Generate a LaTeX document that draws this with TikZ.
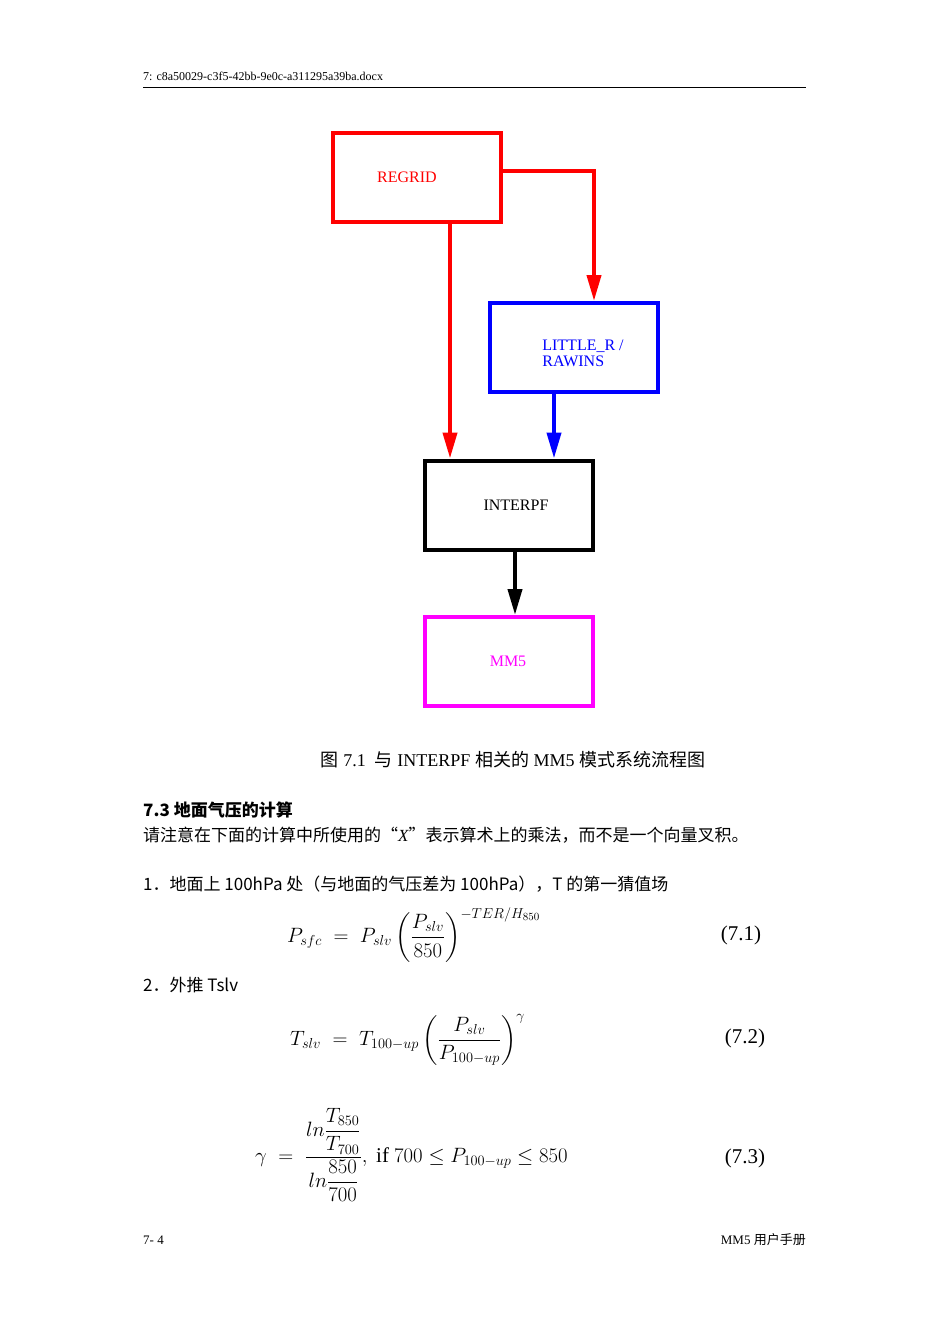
\documentclass[tikz,border=0pt]{standalone}
\usepackage{fontspec}
\usepackage{amsmath}
\setmainfont{Liberation Serif}
\newfontfamily\cjk{Noto Sans CJK SC}
\usetikzlibrary{arrows.meta}
\definecolor{mag}{RGB}{255,0,255}
\tikzset{box/.style={draw,line width=4pt,minimum width=168pt,minimum height=89pt,inner sep=0pt,font=\fontsize{16}{17}\selectfont},
 arr/.style={line width=4pt,-{Triangle[length=26pt,width=14pt]}},
 txt/.style={anchor=west,inner sep=0pt,font=\fontsize{17}{20}\selectfont},
 eq/.style={inner sep=0pt,font=\fontsize{21}{24}\selectfont}}
\begin{document}
\begin{tikzpicture}[x=1pt,y=-1pt]
\useasboundingbox (0,0) rectangle (950,1344);
\node[anchor=west,inner sep=0pt,font=\fontsize{12}{14}\selectfont] (hdr) at (143,76) {7: c8a50029-c3f5-42bb-9e0c-a311295a39ba.docx};
\draw[line width=1pt] (143,87) -- (806,87);
\node[box,draw=red] (regrid) at (417,177.5) {};
\node[text=red,font=\fontsize{16}{17}\selectfont] (regridt) at (407,177) {REGRID};
\node[box,draw=blue] (little) at (574,347.5) {};
\node[text=blue,align=left,font=\fontsize{16}{16}\selectfont] (littlet) at (583,353) {LITTLE\_R /\\RAWINS};
\node[box,draw=black] (interpf) at (509,505) {};
\node[font=\fontsize{16}{17}\selectfont] (interpft) at (516,505) {INTERPF};
\node[box,draw=mag] (mm5) at (509,661.5) {};
\node[text=mag,font=\fontsize{16}{17}\selectfont] (mm5t) at (508,661) {MM5};
\draw[arr,red] (regrid.south -| 450,0) -- (interpf.north -| 450,0);
\draw[arr,red] (regrid.east |- 0,171) -| (little.north -| 594,0);
\draw[arr,blue] (little.south -| 554,0) -- (interpf.north -| 554,0);
\draw[arr,black] (interpf.south -| 515,0) -- (mm5.north -| 515,0);
\node[inner sep=0pt,font=\fontsize{18}{20}\selectfont] (cap) at (513,760) {{\cjk 图} 7.1\enspace {\cjk 与} INTERPF {\cjk 相关的} MM5 {\cjk 模式系统流程图}};
\node[txt] (sec) at (143,810) {\cjk\bfseries 7.3 地面气压的计算};
\node[txt] (note) at (143,835) {\cjk 请注意在下面的计算中所使用的“{\rmfamily\itshape X}”表示算术上的乘法，而不是一个向量叉积。};
\node[txt] (i1) at (143,884) {\cjk 1．地面上 100hPa 处（与地面的气压差为 100hPa），T 的第一猜值场};
\node[eq,anchor=west] (e1) at (287,935) {$P_{sfc} \;=\; P_{slv}\left(\dfrac{P_{slv}}{850}\right)^{-TER/H_{850}}$};
\node[inner sep=0pt,font=\fontsize{21}{22}\selectfont] (n1) at (741,935) {(7.1)};
\node[txt] (i2) at (143,985) {\cjk 2．外推 Tslv};
\node[eq,anchor=west] (e2) at (290,1040) {$T_{slv} \;=\; T_{100-up}\left(\dfrac{P_{slv}}{P_{100-up}}\right)^{\gamma}$};
\node[inner sep=0pt,font=\fontsize{21}{22}\selectfont] (n2) at (745,1038) {(7.2)};
\node[eq,anchor=west] (e3) at (255,1155) {$\gamma \;=\; \dfrac{ln\dfrac{T_{850}}{T_{700}}}{ln\dfrac{850}{700}},\ \text{if } 700\le P_{100-up}\le 850$};
\node[inner sep=0pt,font=\fontsize{21}{22}\selectfont] (n3) at (745,1158) {(7.3)};
\node[anchor=west,inner sep=0pt,font=\fontsize{13}{15}\selectfont] (pg) at (143,1240) {7- 4};
\node[anchor=east,inner sep=0pt,font=\fontsize{13}{15}\selectfont] (ttl) at (806,1240) {MM5 {\cjk 用户手册}};
\end{tikzpicture}
\end{document}
